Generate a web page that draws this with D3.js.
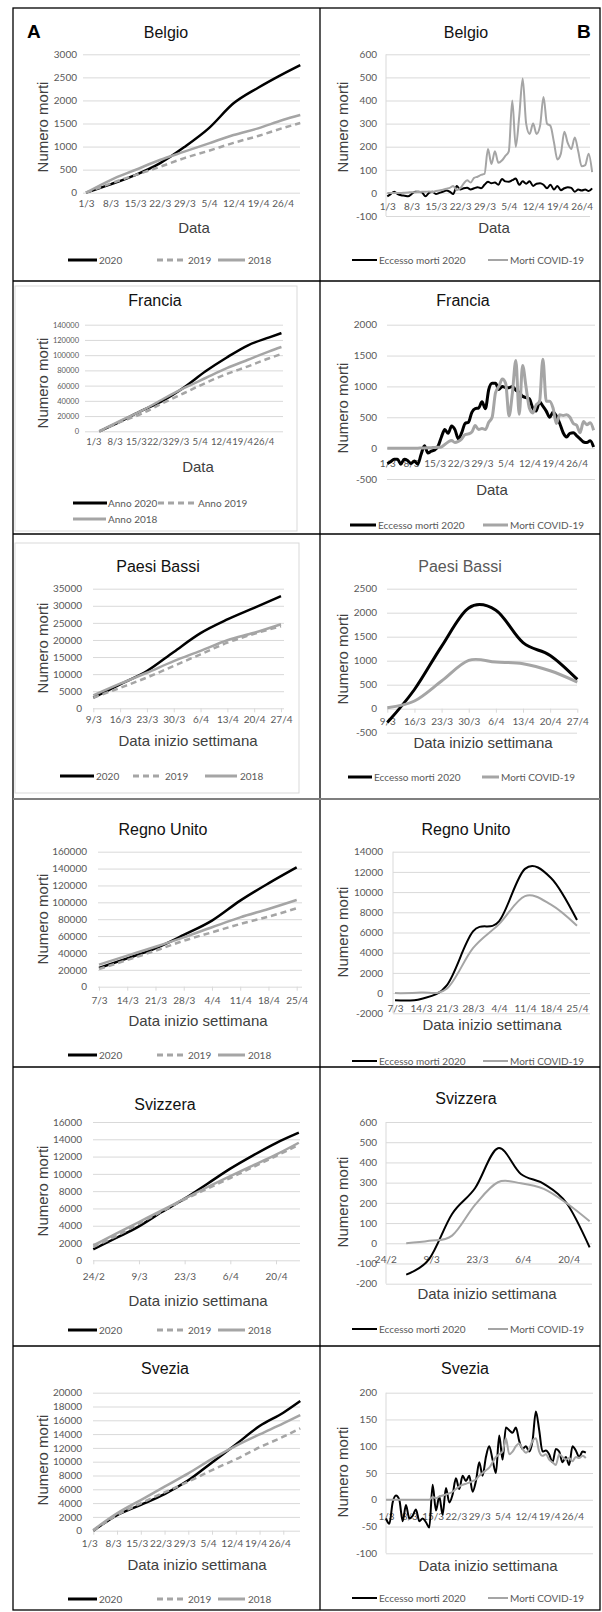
<!DOCTYPE html>
<html>
<head>
<meta charset="utf-8">
<script src="https://cdn.jsdelivr.net/npm/d3@7"></script>
<style>
  body { margin: 0; background: #fff; }
  svg { display: block; }
</style>
</head>
<body>
<svg id="fig" width="602" height="1612"></svg>
<script>
// ---------- shared dates ----------
const marchDays = [0, 7, 14, 21, 28, 35, 42, 49, 56];
const marchLabels = ['1/3', '8/3', '15/3', '22/3', '29/3', '5/4', '12/4', '19/4', '26/4'];
const cumDays = [0, 7, 14, 21, 28, 35, 42, 49, 56, 61];

// ---------- Belgio ----------
const belgioCumTicks = [0, 500, 1000, 1500, 2000, 2500, 3000];
const belgio2020 = [0, 182, 383, 637, 990, 1400, 1937, 2276, 2572, 2767];
const belgio2019 = [0, 200, 380, 560, 750, 910, 1080, 1230, 1400, 1510];
const belgio2018 = [0, 275, 492, 708, 890, 1070, 1250, 1395, 1575, 1684];
const belgioDailyTicks = [-100, 0, 100, 200, 300, 400, 500, 600];
const belgioExcess = [-15, -5, 5, -5, -10, -12, -15, -5, 5, 5, 2, -15, 0, 5, -5, 0, 5, 10, 5, -5,
  30, 15, 20, 22, 15, 20, 25, 20, 35, 48, 42, 45, 35, 60, 50, 48, 55, 62, 35, 50,
  40, 50, 30, 40, 42, 35, 20, 35, 15, 30, 12, 20, 25, 22, 5, 15, 10, 15, 8, 20];
const belgioCovid = [0, 0, 0, 0, 0, 1, 2, 3, 3, 4, 5, 5, 6, 4, 8, 10, 14, 18, 22, 30,
  12, 20, 40, 55, 45, 65, 70, 78, 82, 190, 125, 180, 130, 140, 160, 180, 400, 200, 330, 495,
  300, 255, 300, 255, 290, 415, 300, 290, 220, 145, 170, 265, 215, 190, 240, 180, 115, 120, 170, 90];

// ---------- Francia ----------
const franciaCumDays = [0, 7, 14, 21, 28, 35, 42, 49, 56, 60];
const franciaCumTicks = [0, 20000, 40000, 60000, 80000, 100000, 120000, 140000];
const francia2020 = [0, 13100, 27100, 40300, 57800, 78800, 97000, 113000, 123400, 129000];
const francia2019 = [0, 12250, 23200, 37200, 50300, 63500, 75300, 85300, 96000, 101500];
const francia2018 = [0, 14000, 27100, 42400, 56900, 70000, 83000, 94000, 105000, 110700];
const franciaDailyTicks = [-500, 0, 500, 1000, 1500, 2000];
const franciaExcess = [-250, -220, -180, -180, -260, -180, -200, -250, -210, -260, -100, 40, -80, -50, -30,
  30, 180, 300, 240, 360, 300, 150, 250, 400, 420, 580, 640, 650, 750, 640,
  950, 1050, 1050, 950, 1000, 980, 980, 1000, 940, 900, 840, 820, 800, 650, 600,
  750, 680, 600, 500, 580, 520, 400, 250, 180, 240, 250, 200, 150, 100, 90, 120, 20];
const franciaCovid = [0, 0, 0, 0, 0, 0, 0, 0, 0, 0, 2, 3, 5, 8, 10,
  15, 20, 60, 100, 125, 90, 110, 150, 220, 230, 260, 365, 300, 320, 300,
  420, 500, 900, 1000, 1120, 1050, 520, 900, 1420, 550, 1340, 1000, 650, 570, 700,
  750, 1440, 760, 760, 650, 400, 540, 530, 540, 500, 400, 370, 250, 430, 380, 410, 290];

// ---------- Paesi Bassi ----------
const nlWeekIdx = [0, 1, 2, 3, 4, 5, 6, 7];
const nlWeeks = ['9/3', '16/3', '23/3', '30/3', '6/4', '13/4', '20/4', '27/4'];
const nlCumTicks = [0, 5000, 10000, 15000, 20000, 25000, 30000, 35000];
const nl2020 = [3100, 7000, 10900, 16500, 22000, 26000, 29400, 32800];
const nl2019 = [3100, 6000, 9000, 12400, 15800, 19200, 21800, 24000];
const nl2018 = [3800, 7200, 10400, 13800, 16800, 19900, 22100, 24600];
const nlWeeklyTicks = [-500, 0, 500, 1000, 1500, 2000, 2500];
const nlExcess = [-290, 400, 1300, 2100, 2050, 1375, 1110, 610];
const nlCovid = [20, 160, 576, 1007, 972, 937, 790, 555];

// ---------- Regno Unito ----------
const ukWeekIdx = [0, 1, 2, 3, 4, 5, 6, 7];
const ukWeeks = ['7/3', '14/3', '21/3', '28/3', '4/4', '11/4', '18/4', '25/4'];
const ukCumTicks = [0, 20000, 40000, 60000, 80000, 100000, 120000, 140000, 160000];
const uk2020 = [22100, 33600, 45500, 61300, 78300, 102000, 122500, 141500];
const uk2019 = [21000, 31600, 42700, 54500, 64400, 74300, 83000, 92900];
const uk2018 = [26100, 36800, 47400, 58500, 70400, 82200, 92100, 102800];
const ukWeeklyTicks = [-2000, 0, 2000, 4000, 6000, 8000, 10000, 12000, 14000];
const ukExcess = [-700, -580, 800, 6100, 7100, 12300, 11400, 7230];
const ukCovid = [0, 60, 450, 4450, 6830, 9600, 8750, 6670];

// ---------- Svizzera ----------
const chWeekIdx = [0, 1, 2, 3, 4, 5, 6, 7, 8, 9];
const chLabelIdx = [0, 2, 4, 6, 8];
const chLabels = ['24/2', '9/3', '23/3', '6/4', '20/4'];
const chCumTicks = [0, 2000, 4000, 6000, 8000, 10000, 12000, 14000, 16000];
const ch2020 = [1270, 2580, 3930, 5590, 7130, 8860, 10600, 12140, 13560, 14760];
const ch2019 = [1540, 2810, 4240, 5660, 7050, 8290, 9520, 10790, 12060, 13370];
const ch2018 = [1730, 3080, 4430, 5780, 7130, 8480, 9750, 10980, 12220, 13600];
const chWeeklyIdx = [1, 2, 3, 4, 5, 6, 7, 8, 9];
const chWeeklyTicks = [-200, -100, 0, 100, 200, 300, 400, 500, 600];
const chExcess = [-155, -78, 145, 272, 470, 343, 294, 198, -20];
const chCovid = [0, 12, 38, 190, 302, 297, 269, 198, 109];

// ---------- Svezia ----------
const seCumTicks = [0, 2000, 4000, 6000, 8000, 10000, 12000, 14000, 16000, 18000, 20000];
const se2020 = [0, 2270, 3750, 5300, 7300, 9900, 12500, 15170, 17100, 18790];
const se2019 = [0, 2270, 3960, 5560, 7100, 8790, 10340, 12080, 13620, 14830];
const se2018 = [100, 2510, 4440, 6380, 8300, 10400, 12300, 13960, 15560, 16760];
const seDailyTicks = [-100, -50, 0, 50, 100, 150, 200];
const seExcess = [-35, -45, -5, 8, 0, -40, -10, -35, -30, -18, -40, -35, -42, -52, 28, -20, 6, -28, 22, -5,
  10, 40, 20, 45, 35, 45, 15, 35, 70, 45, 80, 100, 75, 50, 120, 75, 135, 130, 125, 135,
  110, 95, 100, 90, 110, 165, 130, 90, 92, 85, 70, 95, 90, 70, 80, 65, 100, 92, 80, 90, 88];
const seCovid = [0, 0, 0, 0, 0, 0, 0, 0, 0, 0, 0, 0, 0, 0, 5, 3, 6, 8, 10, 12,
  15, 20, 25, 28, 30, 32, 35, 38, 45, 50, 55, 60, 70, 80, 85, 90, 115, 85, 90, 100,
  105, 95, 88, 95, 110, 115, 90, 82, 85, 75, 70, 65, 85, 80, 75, 78, 72, 80, 78, 82, 78];

// ---------- drawing ----------
const svg = d3.select('#fig');
const GRID = '#d9d9d9', GREY = '#a5a5a5', INK = '#595959';
const SANS = '"Liberation Sans", Arial, sans-serif';
const CAL = 'Lato, "Open Sans", sans-serif';
const dayIdx = arr => arr.map((v, i) => i);

const drawPanel = p => {
  const g = svg.append('g');
  const x = d3.scaleLinear().domain(p.xDomain).range(p.xRange);
  const y = d3.scaleLinear().domain(p.yDomain).range([p.yBottom, p.yTop]);
  const fs = p.tickFont || 10;

  if (p.frame) {
    g.append('rect').attr('x', p.frame[0]).attr('y', p.frame[1])
      .attr('width', p.frame[2] - p.frame[0]).attr('height', p.frame[3] - p.frame[1])
      .attr('fill', 'none').attr('stroke', GRID);
  }

  const yAxis = g.append('g')
    .attr('transform', `translate(${p.left},0)`)
    .call(d3.axisLeft(y).tickValues(p.yTicks).tickSize(-(p.right - p.left))
      .tickPadding(p.left - p.yLabelX).tickFormat(d => String(d)));
  yAxis.select('.domain').remove();
  yAxis.selectAll('line').attr('stroke', GRID);
  yAxis.selectAll('text').attr('fill', INK)
    .style('font-family', CAL).style('font-size', fs + 'px');

  if (p.axisLine) {
    g.append('line').attr('x1', p.left).attr('x2', p.left)
      .attr('y1', p.yTop).attr('y2', p.yBottom).attr('stroke', GRID);
  }

  const tickLen = p.tickLen || 0;
  const xfs = p.xFont || fs;
  const xAxis = g.append('g')
    .attr('transform', `translate(0,${y(0)})`)
    .call(d3.axisBottom(x).tickValues(p.xTicks).tickSize(tickLen)
      .tickPadding(p.xLabelY - y(0) - tickLen - 0.35 * xfs)
      .tickFormat(d => p.xLabels[p.xTicks.indexOf(d)]));
  xAxis.select('.domain').remove();
  xAxis.selectAll('line').attr('stroke', GRID);
  xAxis.selectAll('text').attr('fill', INK).attr('dx', p.labelDx || 0)
    .style('font-family', CAL).style('font-size', xfs + 'px');

  const curve = p.smooth ? d3.curveCardinal.tension(0) : d3.curveMonotoneX;
  p.series.forEach(s => {
    const line = d3.line().x(d => x(d[0])).y(d => y(d[1])).curve(curve);
    g.append('path').datum(d3.zip(s.xs, s.values))
      .attr('d', line).attr('fill', 'none')
      .attr('stroke', s.color).attr('stroke-width', s.width)
      .attr('stroke-dasharray', s.dash || null)
      .attr('stroke-linejoin', 'round');
  });

  g.append('text').attr('x', p.titleX).attr('y', p.titleY).attr('dy', '0.35em')
    .attr('text-anchor', 'middle').attr('fill', p.titleColor || '#111')
    .style('font-family', SANS).style('font-size', '16px').text(p.title);

  g.append('text')
    .attr('transform', `translate(${p.yTitle[0]},${p.yTitle[1]}) rotate(-90)`)
    .attr('dy', '0.35em').attr('text-anchor', 'middle').attr('fill', '#404040')
    .style('font-family', SANS).style('font-size', '15px').text('Numero morti');

  g.append('text').attr('x', p.xTitle[0]).attr('y', p.xTitle[1]).attr('dy', '0.35em')
    .attr('text-anchor', 'middle').attr('fill', '#404040')
    .style('font-family', SANS).style('font-size', '15px').text(p.xTitleText);

  p.legend.forEach(l => {
    g.append('line').attr('x1', l.x1).attr('x2', l.x2).attr('y1', l.y).attr('y2', l.y)
      .attr('stroke', l.color).attr('stroke-width', l.width).attr('stroke-dasharray', l.dash || null);
    g.append('text').attr('x', l.tx).attr('y', l.y).attr('dy', '0.35em').attr('fill', INK)
      .style('font-family', CAL).style('font-size', '10px').text(l.label);
  });
};

const yearSeries = (xs, a, b, c, w) => [
  {xs, values: a, color: '#000', width: w},
  {xs, values: b, color: GREY, width: w, dash: '6,4'},
  {xs, values: c, color: GREY, width: w}
];
const yearLegend = (y, pos) => [
  {x1: pos[0], x2: pos[1], tx: pos[1] + 2, y, label: '2020', color: '#000', width: 3},
  {x1: pos[2], x2: pos[3], tx: pos[3] + 3, y, label: '2019', color: GREY, width: 3, dash: '6,4'},
  {x1: pos[4], x2: pos[5], tx: pos[5] + 3, y, label: '2018', color: GREY, width: 3}
];
const excessLegend = (y, pos, w) => [
  {x1: pos[0], x2: pos[1], tx: pos[1] + 2, y, label: 'Eccesso morti 2020', color: '#000', width: w},
  {x1: pos[2], x2: pos[3], tx: pos[3] + 2, y, label: 'Morti COVID-19', color: GREY, width: w}
];
const excessSeries = (xsA, a, xsB, b, w) => [
  {xs: xsA, values: a, color: '#000', width: w},
  {xs: xsB, values: b, color: GREY, width: w}
];
const leftLegendPos = [68, 97, 157, 185, 218, 245];
const rightLegendPos = [352, 377, 488, 508];

const panels = [
  { // A: Belgio
    title: 'Belgio', titleX: 166, titleY: 32,
    left: 83, right: 300, yLabelX: 77,
    yDomain: [0, 3000], yTop: 54.3, yBottom: 192.7, yTicks: belgioCumTicks,
    xDomain: [0, 56], xRange: [86, 282.7], xTicks: marchDays, xLabels: marchLabels, xLabelY: 203.5,
    series: yearSeries(cumDays, belgio2020, belgio2019, belgio2018, 2.5),
    yTitle: [43, 127], xTitle: [194, 228], xTitleText: 'Data',
    legend: yearLegend(260, leftLegendPos)
  },
  { // B: Belgio
    title: 'Belgio', titleX: 466, titleY: 32,
    left: 386, right: 590, yLabelX: 377, axisLine: true,
    yDomain: [-100, 600], yTop: 54.3, yBottom: 216, yTicks: belgioDailyTicks,
    xDomain: [0, 56], xRange: [387.3, 581.7], xTicks: marchDays, xLabels: marchLabels, xLabelY: 206,
    series: excessSeries(dayIdx(belgioExcess), belgioExcess, dayIdx(belgioCovid), belgioCovid, 2),
    yTitle: [343, 127], xTitle: [494, 228], xTitleText: 'Data',
    legend: excessLegend(260, rightLegendPos, 2)
  },
  { // Francia cumulative
    title: 'Francia', titleX: 155, titleY: 300, frame: [15, 286, 297, 531],
    left: 85, right: 283, yLabelX: 79, tickFont: 7.5, xFont: 9.5,
    yDomain: [0, 140000], yTop: 324.7, yBottom: 431.3, yTicks: franciaCumTicks,
    xDomain: [0, 56], xRange: [99.3, 269.3], xTicks: marchDays, xLabels: marchLabels, xLabelY: 442, labelDx: -6,
    series: yearSeries(franciaCumDays, francia2020, francia2019, francia2018, 2.5),
    yTitle: [43, 383], xTitle: [198, 467], xTitleText: 'Data',
    legend: [
      {x1: 73, x2: 107, tx: 108, y: 503, label: 'Anno 2020', color: '#000', width: 3},
      {x1: 158, x2: 194, tx: 198, y: 503, label: 'Anno 2019', color: GREY, width: 3, dash: '6,4'},
      {x1: 73, x2: 106, tx: 108, y: 519, label: 'Anno 2018', color: GREY, width: 3}
    ]
  },
  { // Francia daily
    title: 'Francia', titleX: 463, titleY: 300,
    left: 387, right: 595, yLabelX: 377,
    yDomain: [-500, 2000], yTop: 324.7, yBottom: 479, yTicks: franciaDailyTicks,
    xDomain: [0, 56], xRange: [387.3, 576.7], xTicks: marchDays, xLabels: marchLabels, xLabelY: 463,
    series: excessSeries(dayIdx(franciaExcess), franciaExcess, dayIdx(franciaCovid), franciaCovid, 3),
    yTitle: [343, 408], xTitle: [492, 490], xTitleText: 'Data',
    legend: excessLegend(525, [350, 376, 483, 508], 3)
  },
  { // Paesi Bassi cumulative
    title: 'Paesi Bassi', titleX: 158, titleY: 566, frame: [15, 543, 299, 793],
    left: 93, right: 284, yLabelX: 82, tickLen: 4,
    yDomain: [0, 35000], yTop: 588.7, yBottom: 708.3, yTicks: nlCumTicks,
    xDomain: [0, 7], xRange: [93.3, 281], xTicks: nlWeekIdx, xLabels: nlWeeks, xLabelY: 719,
    series: yearSeries(nlWeekIdx, nl2020, nl2019, nl2018, 2.5),
    yTitle: [43, 648], xTitle: [188, 741], xTitleText: 'Data inizio settimana',
    legend: yearLegend(776, [60, 94, 133, 162, 205, 237])
  },
  { // Paesi Bassi weekly
    title: 'Paesi Bassi', titleX: 460, titleY: 566, titleColor: INK,
    left: 387, right: 577, yLabelX: 377, tickLen: 4, smooth: true,
    yDomain: [-500, 2500], yTop: 588.7, yBottom: 732.7, yTicks: nlWeeklyTicks,
    xDomain: [0, 7], xRange: [387.3, 577.3], xTicks: nlWeekIdx, xLabels: nlWeeks, xLabelY: 721,
    series: excessSeries(nlWeekIdx, nlExcess, nlWeekIdx, nlCovid, 3),
    yTitle: [343, 659], xTitle: [483, 743], xTitleText: 'Data inizio settimana',
    legend: excessLegend(777, [348, 372, 482, 499], 3)
  },
  { // Regno Unito cumulative
    title: 'Regno Unito', titleX: 163, titleY: 829,
    left: 98, right: 302, yLabelX: 87, tickLen: 4,
    yDomain: [0, 160000], yTop: 851.7, yBottom: 986.7, yTicks: ukCumTicks,
    xDomain: [0, 7], xRange: [99, 296.7], xTicks: ukWeekIdx, xLabels: ukWeeks, xLabelY: 1000,
    series: yearSeries(ukWeekIdx, uk2020, uk2019, uk2018, 2.5),
    yTitle: [43, 919], xTitle: [198, 1021], xTitleText: 'Data inizio settimana',
    legend: yearLegend(1055, leftLegendPos)
  },
  { // Regno Unito weekly
    title: 'Regno Unito', titleX: 466, titleY: 829,
    left: 393, right: 590, yLabelX: 383, axisLine: true, smooth: true,
    yDomain: [-2000, 14000], yTop: 851.7, yBottom: 1013.3, yTicks: ukWeeklyTicks,
    xDomain: [0, 7], xRange: [395, 577], xTicks: ukWeekIdx, xLabels: ukWeeks, xLabelY: 1008,
    series: excessSeries(ukWeekIdx, ukExcess, ukWeekIdx, ukCovid, 2),
    yTitle: [343, 932], xTitle: [492, 1025], xTitleText: 'Data inizio settimana',
    legend: excessLegend(1061, [352, 377, 483, 508], 2)
  },
  { // Svizzera cumulative
    title: 'Svizzera', titleX: 165, titleY: 1104,
    left: 93, right: 300, yLabelX: 82, tickLen: 4,
    yDomain: [0, 16000], yTop: 1122, yBottom: 1260.3, yTicks: chCumTicks,
    xDomain: [0, 8], xRange: [93.3, 276], xTicks: chLabelIdx, xLabels: chLabels, xLabelY: 1276,
    series: yearSeries(chWeekIdx, ch2020, ch2019, ch2018, 2.5),
    yTitle: [43, 1191], xTitle: [198, 1301], xTitleText: 'Data inizio settimana',
    legend: yearLegend(1330, leftLegendPos)
  },
  { // Svizzera weekly
    title: 'Svizzera', titleX: 466, titleY: 1098,
    left: 386, right: 592, yLabelX: 377, axisLine: true, smooth: true,
    yDomain: [-200, 600], yTop: 1122, yBottom: 1283.7, yTicks: chWeeklyTicks,
    xDomain: [0, 8], xRange: [383.3, 566.7], xTicks: chLabelIdx, xLabels: chLabels, xLabelY: 1259, labelDx: 2,
    series: excessSeries(chWeeklyIdx, chExcess, chWeeklyIdx, chCovid, 2),
    yTitle: [343, 1202], xTitle: [487, 1294], xTitleText: 'Data inizio settimana',
    legend: excessLegend(1329, rightLegendPos, 2)
  },
  { // Svezia cumulative
    title: 'Svezia', titleX: 165, titleY: 1368,
    left: 93, right: 300, yLabelX: 82, tickLen: 4,
    yDomain: [0, 20000], yTop: 1392.7, yBottom: 1530.7, yTicks: seCumTicks,
    xDomain: [0, 56], xRange: [93.3, 283.3], xTicks: marchDays, xLabels: marchLabels, xLabelY: 1543, labelDx: -4,
    series: yearSeries(cumDays, se2020, se2019, se2018, 2.5),
    yTitle: [43, 1460], xTitle: [197, 1565], xTitleText: 'Data inizio settimana',
    legend: yearLegend(1599, leftLegendPos)
  },
  { // Svezia daily
    title: 'Svezia', titleX: 465, titleY: 1368,
    left: 386, right: 593, yLabelX: 377, axisLine: true,
    yDomain: [-100, 200], yTop: 1392.7, yBottom: 1553.3, yTicks: seDailyTicks,
    xDomain: [0, 56], xRange: [386, 572.5], xTicks: marchDays, xLabels: marchLabels, xLabelY: 1516,
    series: excessSeries(dayIdx(seExcess), seExcess, dayIdx(seCovid), seCovid, 2),
    yTitle: [343, 1472], xTitle: [488, 1566], xTitleText: 'Data inizio settimana',
    legend: excessLegend(1598, rightLegendPos, 2)
  }
];

panels.forEach(drawPanel);

// panel letters
svg.append('text').attr('x', 27).attr('y', 38).style('font-family', SANS)
  .style('font-size', '19px').style('font-weight', 'bold').text('A');
svg.append('text').attr('x', 577).attr('y', 38).style('font-family', SANS)
  .style('font-size', '19px').style('font-weight', 'bold').text('B');

// outer frame and dividers
const frame = svg.append('g').attr('fill', 'none').attr('stroke', '#000').attr('stroke-width', 1.3);
frame.append('rect').attr('x', 13).attr('y', 8).attr('width', 587).attr('height', 1602);
frame.append('line').attr('x1', 320).attr('x2', 320).attr('y1', 8).attr('y2', 1610);
[281, 534, 1067, 1346].forEach(yy => {
  frame.append('line').attr('x1', 13).attr('x2', 600).attr('y1', yy).attr('y2', yy);
});
frame.append('line').attr('x1', 13).attr('x2', 600).attr('y1', 799).attr('y2', 799)
  .attr('stroke', '#7f7f7f').attr('stroke-width', 2);
</script>
</body>
</html>
